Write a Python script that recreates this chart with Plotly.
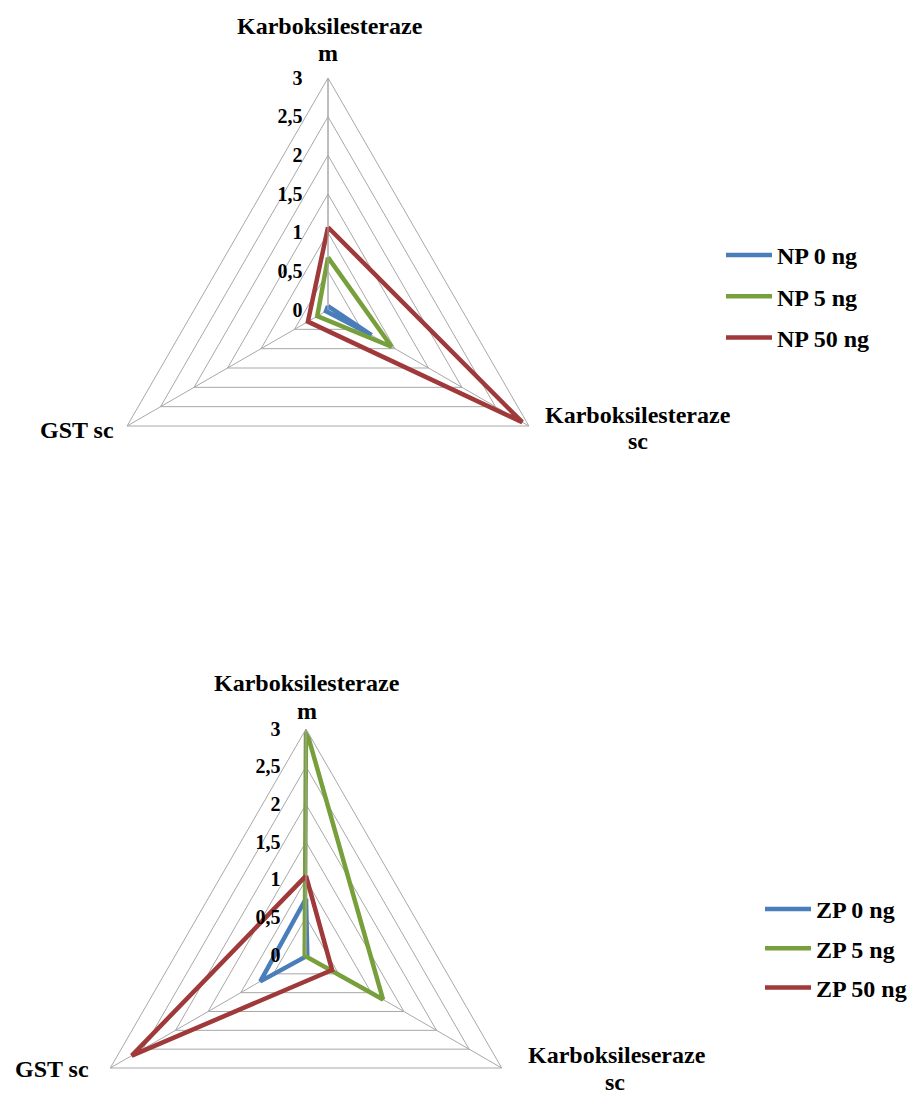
import plotly.graph_objects as go

# ---------------- data ----------------
axes_np = ["Karboksilesteraze m", "Karboksilesteraze sc", "GST sc"]
axes_zp = ["Karboksilesteraze m", "Karboksileseraze sc", "GST sc"]

names_np = ["NP 0 ng", "NP 5 ng", "NP 50 ng"]
names_zp = ["ZP 0 ng", "ZP 5 ng", "ZP 50 ng"]

np_0 = [0.05, 0.65, 0.03]
np_5 = [0.68, 0.95, 0.16]
np_50 = [1.07, 2.90, 0.30]

zp_0 = [0.75, 0.02, 0.70]
zp_5 = [3.00, 1.18, 0.02]
zp_50 = [1.05, 0.40, 2.67]

colors = ["#4A7EBB", "#77A03C", "#A0393A"]
GRID = "#A8A8A8"
FONT = "Liberation Serif"

W, H = 920, 1185   # page is viewed through a 920x1093 window
OFF = 8            # default page margin of the html body

fig = go.Figure()


def closed(lst):
    return list(lst) + [lst[0]]


for name, vals, col in zip(names_np, [np_0, np_5, np_50], colors):
    fig.add_trace(go.Scatterpolar(
        r=closed(vals), theta=closed(axes_np), mode="lines", name=name,
        line=dict(color=col, width=4.5), subplot="polar", legend="legend",
        legendgroup=name))

for name, vals, col in zip(names_zp, [zp_0, zp_5, zp_50], colors):
    fig.add_trace(go.Scatterpolar(
        r=closed(vals), theta=closed(axes_zp), mode="lines", name=name,
        line=dict(color=col, width=4.5), subplot="polar2", legend="legend2",
        legendgroup=name))


def px(x):
    return (x - OFF) / W


def py(y):
    return 1 - (y - OFF) / H


def polar_cfg(cx, cy, rad, cats):
    return dict(
        domain=dict(x=[px(cx - rad), px(cx + rad)], y=[py(cy + rad), py(cy - rad)]),
        bgcolor="rgba(0,0,0,0)",
        gridshape="linear",
        radialaxis=dict(range=[0, 3], tick0=0, dtick=0.5, angle=90,
                        side="counterclockwise", showline=True, linecolor=GRID,
                        linewidth=1, gridcolor=GRID, gridwidth=1,
                        ticks="outside", ticklen=18, tickcolor="rgba(0,0,0,0)",
                        tickangle=90,
                        tickfont=dict(family=FONT, size=20, color="black", weight="bold")),
        angularaxis=dict(type="category", categoryarray=cats, rotation=90,
                         direction="clockwise", showline=True, linecolor=GRID,
                         linewidth=1, gridcolor=GRID, gridwidth=1, ticks="",
                         showticklabels=False),
    )


label_font = dict(family=FONT, size=24, color="black", weight="bold")

# category labels (one annotation per text line, as in the reference)
label_lines = [
    ("Karboksilesteraze", 330, 26), ("m", 328, 53),
    ("Karboksilesteraze", 638, 415), ("sc", 638, 441),
    ("GST sc", 77, 430),
    ("Karboksilesteraze", 307, 683), ("m", 307, 711),
    ("Karboksileseraze", 617, 1055), ("sc", 615, 1082),
    ("GST sc", 52, 1069),
]
annotations = [dict(text=t, x=px(x), y=py(y), xref="paper", yref="paper",
                    xanchor="center", yanchor="middle", showarrow=False,
                    font=label_font) for t, x, y in label_lines]

legend_font = dict(family=FONT, size=24, color="black", weight="bold")

fig.update_layout(
    width=W, height=H,
    margin=dict(l=0, r=0, t=0, b=0, autoexpand=False),
    paper_bgcolor="white", plot_bgcolor="white",
    separators=", ",
    polar=polar_cfg(328, 310, 232, axes_np),
    polar2=polar_cfg(306, 955, 226, axes_zp),
    annotations=annotations,
    legend=dict(x=px(721), y=py(233), xanchor="left", yanchor="top",
                font=legend_font, bgcolor="rgba(0,0,0,0)", itemwidth=46,
                traceorder="grouped", tracegroupgap=7),
    legend2=dict(x=px(760), y=py(887), xanchor="left", yanchor="top",
                 font=legend_font, bgcolor="rgba(0,0,0,0)", itemwidth=46,
                 traceorder="grouped", tracegroupgap=5),
)

fig.write_html("out.html")
